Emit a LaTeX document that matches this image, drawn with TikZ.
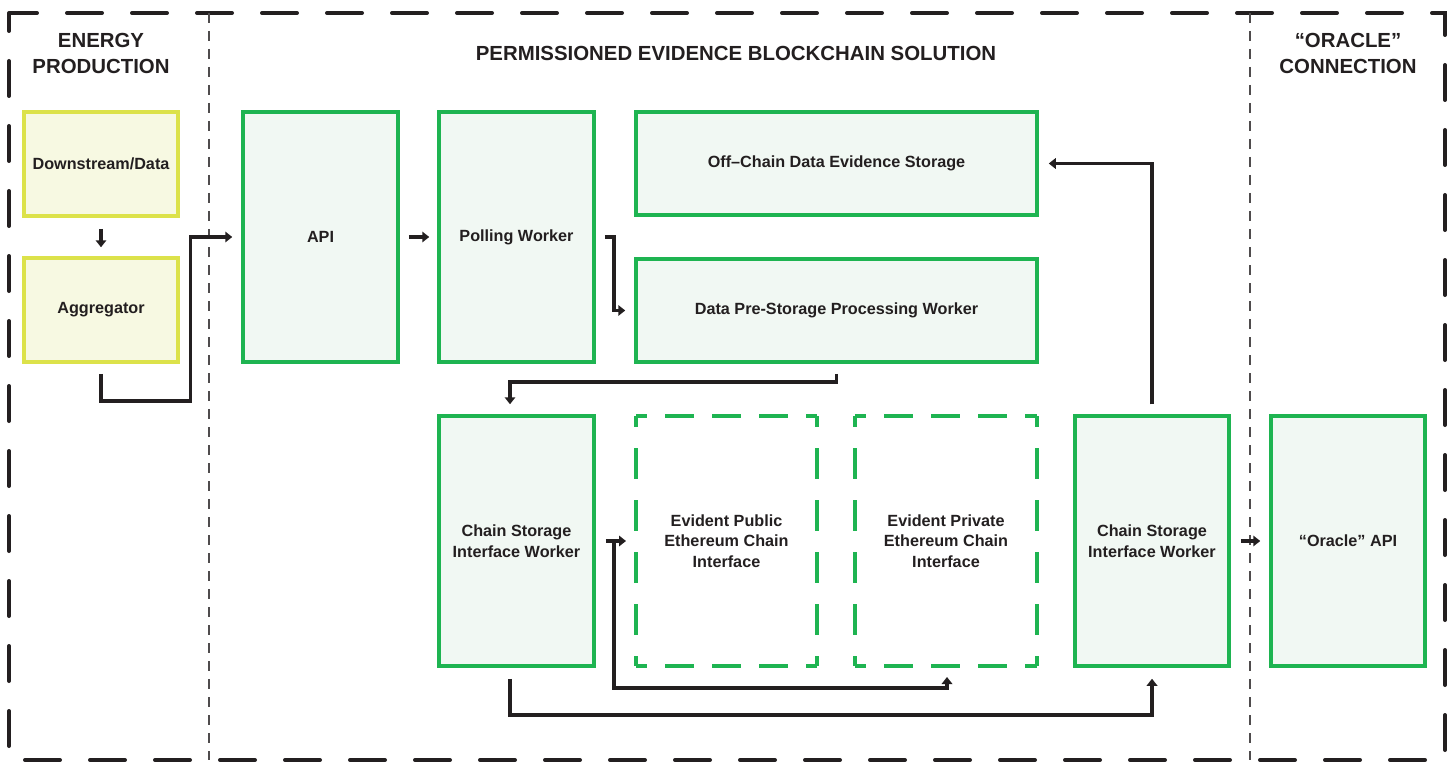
\documentclass[tikz,border=0pt]{standalone}
\usepackage{fontspec}
\setmainfont{Liberation Sans}
\usetikzlibrary{arrows.meta,calc}
\definecolor{grn}{HTML}{1EB451}
\definecolor{grnfill}{HTML}{F1F8F3}
\definecolor{ylw}{HTML}{DCE24A}
\definecolor{ylwfill}{HTML}{F7F9E2}
\definecolor{ink}{HTML}{231F20}
\newcommand{\dashedborder}[1]{%
  \draw[dside h] (#1.north west) -- (#1.north east);
  \draw[dside h] (#1.south west) -- (#1.south east);
  \draw[dside v] (#1.north west) -- (#1.south west);
  \draw[dside v] (#1.north east) -- (#1.south east);}
\begin{document}
\begin{tikzpicture}[x=1pt,y=-1pt,
  boxtext/.style={text=ink, font=\bfseries\fontsize{16.2}{20.5}\selectfont, align=center, inner sep=0pt},
  gbox/.style={boxtext, draw=grn, fill=grnfill, line width=3.5pt},
  ybox/.style={boxtext, draw=ylw, fill=ylwfill, line width=3.5pt},
  dbox/.style={boxtext, outer sep=0pt},
  dside h/.style={draw=grn, line width=3.5pt, dash pattern=on 29pt off 18pt, dash phase=18pt},
  dside v/.style={draw=grn, line width=3.5pt, dash pattern=on 31pt off 21pt, dash phase=20pt},
  title/.style={text=ink, font=\bfseries\fontsize{20.4}{26}\selectfont, align=center, inner sep=0pt},
  arr/.style={draw=ink, line width=3.5pt, -{Triangle[length=7pt,width=10.5pt]}},
  frame/.style={draw=ink, line width=4pt, dash pattern=on 35pt off 30pt, dash phase=17pt, line cap=round},
  divider/.style={draw=ink!80, line width=1.3pt, dash pattern=on 10pt off 8pt}
]
\useasboundingbox (0,0) rectangle (1453,762);
% frame and dividers
\draw[frame] (9,13) rectangle (1445,760);
\draw[divider] (209,13) -- (209,760);
\draw[divider] (1250,13) -- (1250,760);
% titles
\node[title] (t1) at (101,53) {ENERGY\\PRODUCTION};
\node[title] (t2) at (736,53) {PERMISSIONED EVIDENCE BLOCKCHAIN SOLUTION};
\node[title] (t3) at (1348,53) {“ORACLE”\\CONNECTION};
% boxes
\node[ybox, minimum width=154pt, minimum height=104pt] (down) at (101,164) {Downstream/Data};
\node[ybox, minimum width=154pt, minimum height=104pt] (agg) at (101,310) {Aggregator};
\node[gbox, minimum width=155pt, minimum height=250pt] (api) at (320.5,237) {API};
\node[gbox, minimum width=155pt, minimum height=250pt] (poll) at (516.5,237) {Polling Worker};
\node[gbox, minimum width=401pt, minimum height=103pt] (off) at (836.5,163.5) {Off--Chain Data Evidence Storage};
\node[gbox, minimum width=401pt, minimum height=103pt] (pre) at (836.5,310.5) {Data Pre-Storage Processing Worker};
\node[gbox, minimum width=155pt, minimum height=250pt] (csa) at (516.5,541) {Chain Storage\\Interface Worker};
\node[dbox, minimum width=181pt, minimum height=250pt] (pub) at (726.5,541) {Evident Public\\Ethereum Chain\\Interface};
\node[dbox, minimum width=182pt, minimum height=250pt] (priv) at (946,541) {Evident Private\\Ethereum Chain\\Interface};
\dashedborder{pub}
\dashedborder{priv}
\node[gbox, minimum width=154pt, minimum height=250pt] (csb) at (1152,541) {Chain Storage\\Interface Worker};
\node[gbox, minimum width=154pt, minimum height=250pt] (orc) at (1348,541) {“Oracle” API};
% connectors
\draw[arr] ($(down.south)+(0,11)$) -- ($(agg.north)+(0,-9)$);
\draw[arr] ($(agg.south)+(0,10)$) -- ++(0,27) -| ($(api.west)+(-51,0)$) -- ($(api.west)+(-9,0)$);
\draw[arr] ($(api.east)+(9,0)$) -- ($(poll.west)+(-8,0)$);
\draw[arr] ($(poll.east)+(9,0)$) -- ++(9,0) |- ($(pre.west)+(-9,0)$);
\draw[arr] ($(pre.south)+(0,10)$) -- ++(0,8) -| ($(csa.north)+(-6.5,-10)$);
\draw[arr] ($(csa.east)+(10,0)$) -- ($(pub.west)+(-10,0)$);
\coordinate (j) at ($(csa.east)+(18,0)$);
\draw[arr] (j) -- ++(0,147) -| ($(priv.south)+(1,11)$);
\draw[arr] ($(csa.south)+(-6.5,11)$) -- ++(0,36) -| ($(csb.south)+(0,11)$);
\draw[arr] ($(csb.north)+(0,-10)$) |- ($(off.east)+(10,0)$);
\draw[arr] ($(csb.east)+(10,0)$) -- ($(orc.west)+(-9,0)$);
\end{tikzpicture}
\end{document}
